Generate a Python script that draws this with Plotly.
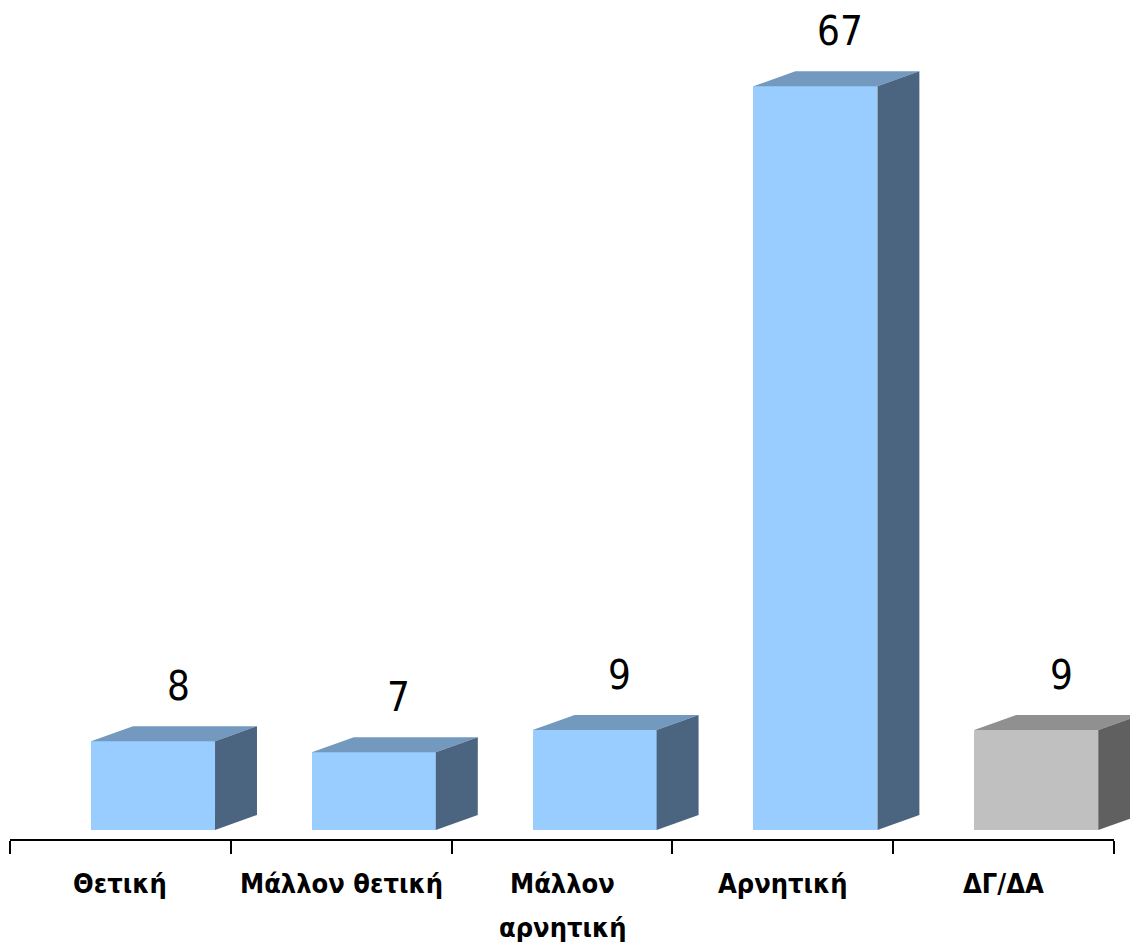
import plotly.graph_objects as go

categories = ["Θετική", "Μάλλον θετική", "Μάλλον<br>αρνητική", "Αρνητική", "ΔΓ/ΔΑ"]
values = [8, 7, 9, 67, 9]
front_colors = ["#99CCFF", "#99CCFF", "#99CCFF", "#99CCFF", "#C0C0C0"]
top_colors = ["#7399BF", "#7399BF", "#7399BF", "#7399BF", "#909090"]
side_colors = ["#4B6580", "#4B6580", "#4B6580", "#4B6580", "#606060"]

FONT = "Liberation Sans Narrow, Arial Narrow, DejaVu Sans Condensed, sans-serif"

# geometry (in data units)
x0_off = 0.367
bar_w = 0.5616
dx = 0.190
dy = 1.35
px_per_unit_y = 11.1

OFF = 8  # default page body margin
W, H = 1138 - OFF, 942 - OFF
ml, mr, mt, mb = 10 - OFF, 0, 0, 942 - 840
plot_w = W - ml - mr
plot_h = H - mt - mb
x_unit = 220.8
xmax = plot_w / x_unit
ymin = -10 / px_per_unit_y
ymax = ymin + plot_h / px_per_unit_y

fig = go.Figure()

for i, v in enumerate(values):
    xl = i + x0_off
    xr = xl + bar_w
    fig.add_trace(go.Bar(x=[xl + bar_w / 2], y=[v], width=[bar_w], base=[0],
                         marker=dict(color=front_colors[i], line=dict(width=0)),
                         hoverinfo="skip", showlegend=False))
    fig.add_trace(go.Scatter(x=[xl, xr, xr + dx, xl + dx, xl], y=[v, v, v + dy, v + dy, v],
                             fill="toself", fillcolor=top_colors[i], mode="lines",
                             line=dict(width=0, color=top_colors[i]),
                             hoverinfo="skip", showlegend=False))
    fig.add_trace(go.Scatter(x=[xr, xr + dx, xr + dx, xr, xr], y=[0, dy, v + dy, v, 0],
                             fill="toself", fillcolor=side_colors[i], mode="lines",
                             line=dict(width=0, color=side_colors[i]),
                             hoverinfo="skip", showlegend=False))
    fig.add_annotation(x=xl + 0.394, y=v, xref="x", yref="y", text=str(v),
                       showarrow=False, yanchor="middle", yshift=55,
                       font=dict(family=FONT, size=40, color="black"))
    for k, line in enumerate(categories[i].split("<br>")):
        fig.add_annotation(x=i + 0.5, y=0, xref="x", yref="paper", text="<b>%s</b>" % line,
                           showarrow=False, yanchor="middle", yshift=-43 - 44 * k,
                           font=dict(family=FONT, size=27, color="black"))

fig.add_shape(type="line", xref="x", yref="paper", x0=0, x1=5, y0=0, y1=0,
              line=dict(color="black", width=2))

fig.update_layout(
    width=W, height=H,
    margin=dict(l=ml, r=mr, t=mt, b=mb),
    paper_bgcolor="white", plot_bgcolor="white",
    bargap=0, barmode="overlay",
    xaxis=dict(range=[0, xmax], tickvals=[0, 1, 2, 3, 4, 5], ticktext=[""] * 6,
               ticks="outside", ticklen=13, tickwidth=2, tickcolor="black",
               showgrid=False, zeroline=False, showline=False, fixedrange=True),
    yaxis=dict(range=[ymin, ymax], visible=False, showgrid=False, zeroline=False, fixedrange=True),
    hovermode=False,
)

fig.write_html("out.html")
